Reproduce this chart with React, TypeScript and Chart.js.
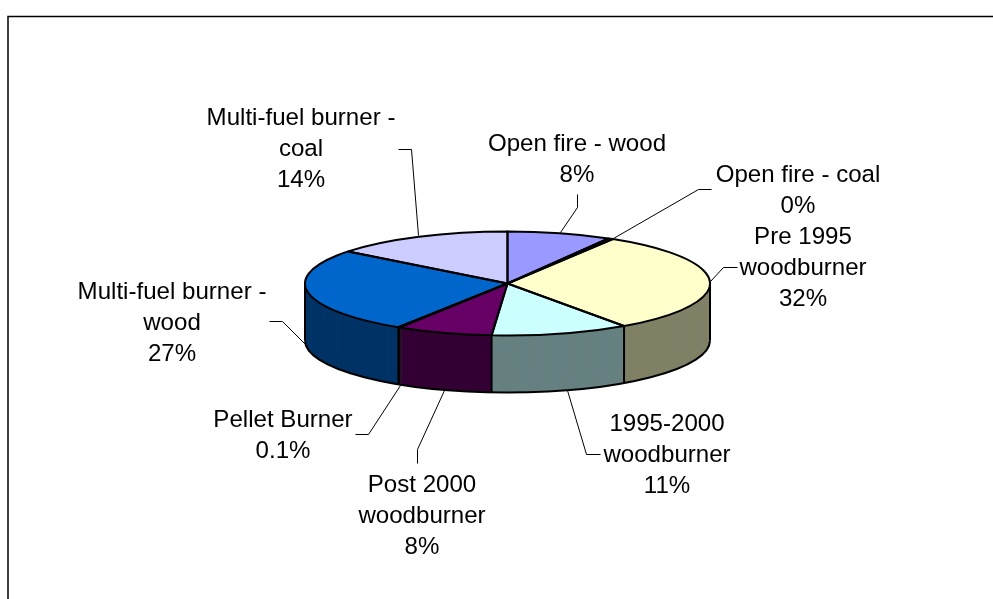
import React, { useEffect, useRef } from "react";
import { Chart, registerables } from "chart.js";

Chart.register(...registerables);

const categories = [
  "Open fire - wood",
  "Open fire - coal",
  "Pre 1995 woodburner",
  "1995-2000 woodburner",
  "Post 2000 woodburner",
  "Pellet Burner",
  "Multi-fuel burner - wood",
  "Multi-fuel burner - coal",
];
const values = [8.3, 0.4, 31.5, 11, 7.7, 0.1, 26.5, 14.4];
const percentLabels = ["8%", "0%", "32%", "11%", "8%", "0.1%", "27%", "14%"];
const topColors = ["#9999FF", "#993366", "#FFFFCC", "#CCFFFF", "#660066", "#FF8080", "#0066CC", "#CCCCFF"];
const sideColors = ["#4D4D80", "#4D1A33", "#808066", "#668080", "#330033", "#804040", "#003366", "#666680"];

// Text block layout: centre x, first baseline y, lines.
const labelLayout = [
  { x: 577, y: 150.5, lines: ["Open fire - wood", percentLabels[0]] },
  { x: 798, y: 181.5, lines: ["Open fire - coal", percentLabels[1]] },
  { x: 803, y: 243.5, lines: ["Pre 1995", "woodburner", percentLabels[2]] },
  { x: 667, y: 430.5, lines: ["1995-2000", "woodburner", percentLabels[3]] },
  { x: 422, y: 491.5, lines: ["Post 2000", "woodburner", percentLabels[4]] },
  { x: 283, y: 426.5, lines: ["Pellet Burner", percentLabels[5]] },
  { x: 172, y: 298.5, lines: ["Multi-fuel burner -", "wood", percentLabels[6]] },
  { x: 301, y: 124.5, lines: ["Multi-fuel burner -", "coal", percentLabels[7]] },
];
const leaderLines = [
  [[577, 194], [577, 207], [560, 232]],
  [[711, 189], [698, 189], [613, 238]],
  [[737, 267], [723, 267], [710, 281]],
  [[600, 454], [586, 454], [567, 390]],
  [[417, 463], [417, 449], [444, 390]],
  [[355, 434], [368, 434], [400, 385]],
  [[269, 321], [282, 321], [307, 346]],
  [[398, 149], [411, 149], [418, 235]],
];

const pie3d = {
  id: "pie3d",
  beforeDatasetsDraw(chart: any) {
    const ctx = chart.ctx;
    const arcs = chart.getDatasetMeta(0).data;
    const cx = arcs[0].x;
    const cy = arcs[0].y;
    const r = arcs[0].outerRadius;
    const ry = 52;
    const depth = 57;
    const flat = ry / r;
    const path = (startAngle: number, endAngle: number, dy: number, wedge: boolean) => {
      ctx.beginPath();
      if (wedge) ctx.moveTo(cx, cy + dy);
      ctx.ellipse(cx, cy + dy, r, ry, 0, startAngle, endAngle);
      if (wedge) ctx.closePath();
    };
    ctx.save();
    for (let d = depth; d >= 0; d--) {
      ctx.save();
      ctx.translate(cx, cy + d);
      ctx.scale(1, flat);
      ctx.translate(-cx, -cy);
      arcs.forEach((arc: any, i: number) => {
        const base = arc.options;
        arc.options = {
          ...base,
          backgroundColor: d === 0 ? topColors[i] : sideColors[i],
          borderWidth: 0,
        };
        arc.draw(ctx);
        arc.options = base;
      });
      ctx.restore();
    }
    ctx.strokeStyle = "#000";
    ctx.lineWidth = 2;
    ctx.lineJoin = "round";
    // Bottom silhouette and side edges
    path(0, Math.PI, depth, false);
    ctx.stroke();
    ctx.beginPath();
    ctx.moveTo(cx + r, cy);
    ctx.lineTo(cx + r, cy + depth);
    ctx.moveTo(cx - r, cy);
    ctx.lineTo(cx - r, cy + depth);
    arcs.forEach((arc: any) => {
      const s = Math.sin(arc.startAngle);
      if (s > 0) {
        const x = cx + r * Math.cos(arc.startAngle);
        const y = cy + ry * s;
        ctx.moveTo(x, y);
        ctx.lineTo(x, y + depth);
      }
    });
    ctx.stroke();
    // Top outlines
    arcs.forEach((arc: any) => {
      path(arc.startAngle, arc.endAngle, 0, true);
      ctx.stroke();
    });
    ctx.restore();
  },
  afterDatasetsDraw(chart: any) {
    const ctx = chart.ctx;
    ctx.save();
    ctx.strokeStyle = "#000";
    ctx.lineWidth = 1;
    leaderLines.forEach((pts) => {
      ctx.beginPath();
      pts.forEach(([x, y], i) => (i ? ctx.lineTo(x + 0.5, y + 0.5) : ctx.moveTo(x + 0.5, y + 0.5)));
      ctx.stroke();
    });
    ctx.fillStyle = "#000";
    ctx.font = '24.1px "Liberation Sans", Arial, sans-serif';
    ctx.textAlign = "center";
    ctx.textBaseline = "alphabetic";
    labelLayout.forEach((l) => {
      l.lines.forEach((t, i) => ctx.fillText(t, l.x, l.y + i * 31));
    });
    // Chart frame: only top and left edges fall inside the picture
    ctx.lineWidth = 1.5;
    ctx.strokeStyle = "#000";
    ctx.beginPath();
    ctx.moveTo(8, 599);
    ctx.lineTo(8, 16.5);
    ctx.lineTo(993, 16.5);
    ctx.stroke();
    ctx.restore();
  },
};

export default function App() {
  const ref = useRef<HTMLCanvasElement>(null);
  useEffect(() => {
    document.body.style.margin = "0";
    document.body.style.background = "#fff";
    const chart = new Chart(ref.current!, {
      type: "pie",
      data: {
        labels: categories,
        datasets: [
          {
            data: values,
            backgroundColor: "rgba(0,0,0,0)",
            borderWidth: 0,
          },
        ],
      },
      options: {
        responsive: false,
        animation: false,
        rotation: 0,
        layout: { padding: { left: 305, right: 283, top: 81, bottom: 113 } },
        plugins: { legend: { display: false }, tooltip: { enabled: false }, title: { display: false } },
      },
      plugins: [pie3d],
    } as any);
    return () => chart.destroy();
  }, []);
  return <canvas ref={ref} width={993} height={599} style={{ display: "block" }} />;
}
